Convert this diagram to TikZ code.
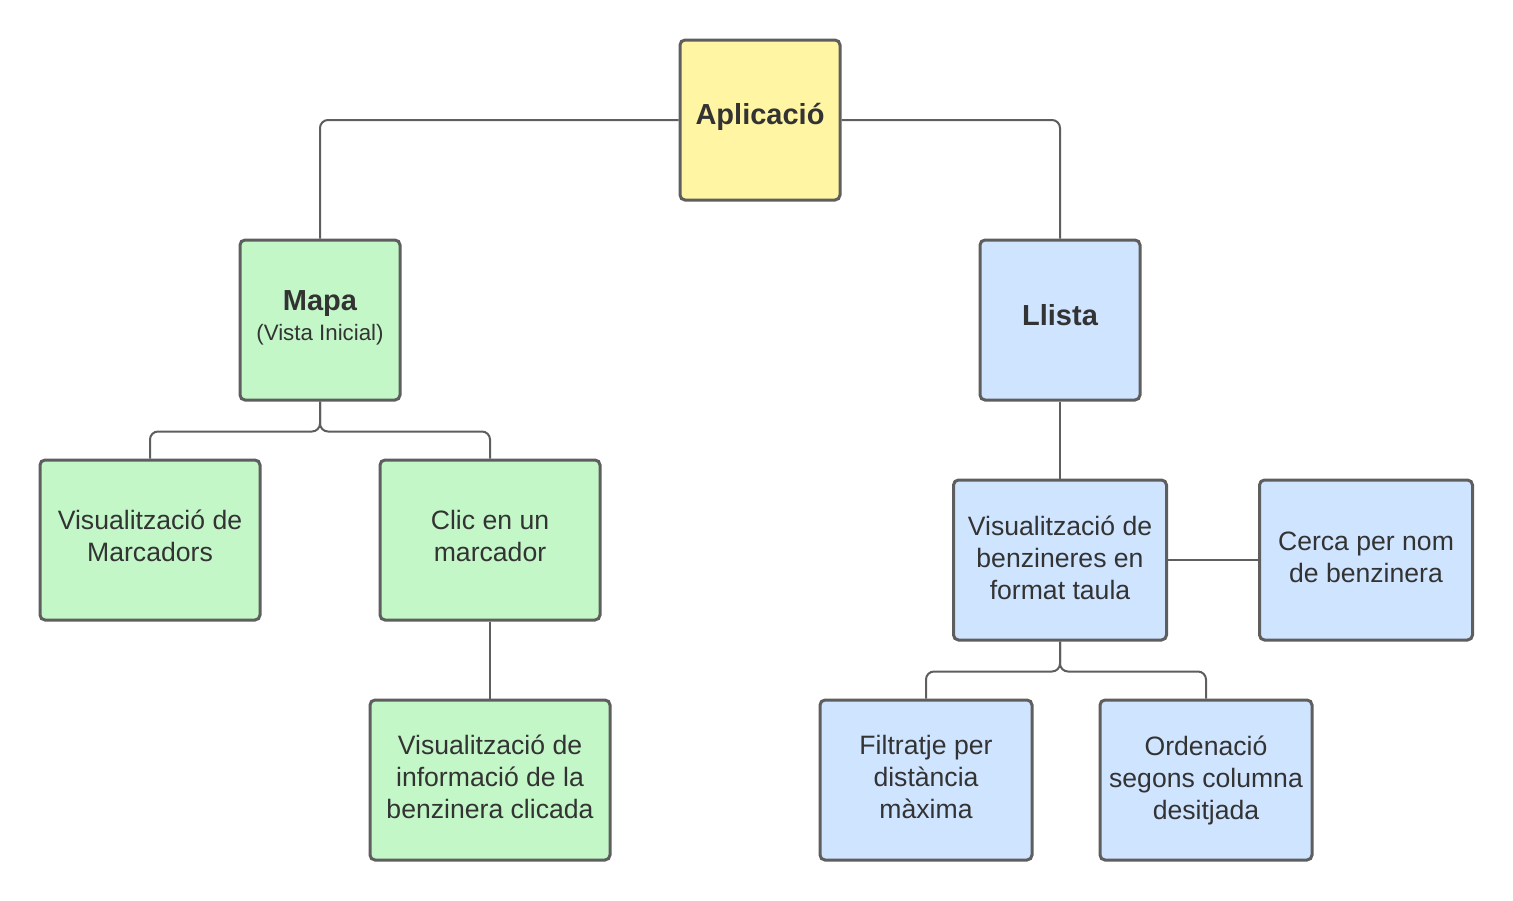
\documentclass[tikz,border=0pt]{standalone}
\usepackage{fontspec}
\setmainfont{Liberation Sans}
\definecolor{yel}{HTML}{FFF5A3}
\definecolor{grn}{HTML}{C3F7C8}
\definecolor{blu}{HTML}{CFE4FF}
\definecolor{edge}{HTML}{5E5E5E}
\definecolor{txt}{HTML}{333333}
\tikzset{
  box/.style={draw=edge, line width=3pt, rounded corners=5pt,
    minimum height=160pt},
  lbl/.style={align=center, text=txt, inner sep=0pt, font=\fontsize{26.6}{32}\selectfont},
  ttl/.style={lbl, font=\fontsize{29}{32}\selectfont\bfseries},
  link/.style={draw=edge, line width=2pt, rounded corners=8pt},
}
\begin{document}
\begin{tikzpicture}[x=1pt,y=-1pt]
\useasboundingbox (0,0) rectangle (1513,900);
% boxes
\node[box, fill=yel, minimum width=160pt] (apl) at (760,120) {};
\node[box, fill=grn, minimum width=160pt] (mapa) at (320,320) {};
\node[box, fill=blu, minimum width=160pt] (llista) at (1060,320) {};
\node[box, fill=grn, minimum width=220pt] (vm) at (150,540) {};
\node[box, fill=grn, minimum width=220pt] (clic) at (490,540) {};
\node[box, fill=grn, minimum width=240pt] (info) at (490,780) {};
\node[box, fill=blu, minimum width=213pt] (taula) at (1060,560) {};
\node[box, fill=blu, minimum width=213pt] (cerca) at (1366,560) {};
\node[box, fill=blu, minimum width=212pt] (filt) at (926,780) {};
\node[box, fill=blu, minimum width=212pt] (ord) at (1206,780) {};
% texts
\node[ttl, yshift=3pt] (apl-t) at (apl) {Aplicació};
\node[lbl, yshift=2pt] (mapa-t) at (mapa) {{\fontsize{29}{32}\selectfont\bfseries Mapa}\\[-2pt]{\fontsize{22.3}{26}\selectfont (Vista Inicial)}};
\node[ttl, yshift=5pt] (llista-t) at (llista) {Llista};
\node[lbl, yshift=4pt] (vm-t) at (vm) {Visualització de\\Marcadors};
\node[lbl, yshift=4pt] (clic-t) at (clic) {Clic en un\\marcador};
\node[lbl, yshift=3pt] (info-t) at (info) {Visualització de\\informació de la\\benzinera clicada};
\node[lbl, yshift=2pt] (taula-t) at (taula) {Visualització de\\benzineres en\\format taula};
\node[lbl, yshift=3pt] (cerca-t) at (cerca) {Cerca per nom\\de benzinera};
\node[lbl, yshift=3pt] (filt-t) at (filt) {Filtratje per\\distància\\màxima};
\node[lbl] (ord-t) at (ord) {Ordenació\\segons columna\\desitjada};
% connectors
\draw[link] (apl.west) -| (mapa.north);
\draw[link] (apl.east) -| (llista.north);
\draw[link] (mapa.south) -- ++(0,30) -| (vm.north);
\draw[link] (mapa.south) -- ++(0,30) -| (clic.north);
\draw[link] (clic.south) -- (info.north);
\draw[link] (llista.south) -- (taula.north);
\draw[link] (taula.east) -- (cerca.west);
\draw[link] (taula.south) -- ++(0,30) -| (filt.north);
\draw[link] (taula.south) -- ++(0,30) -| (ord.north);
\end{tikzpicture}
\end{document}
